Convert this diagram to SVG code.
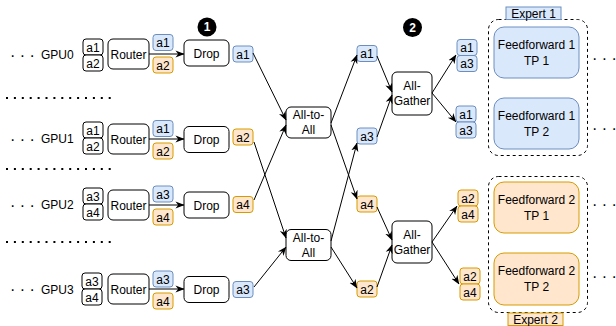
<svg xmlns="http://www.w3.org/2000/svg" width="616" height="326" viewBox="0 0 616 326">
<style>
text{font-family:"Liberation Sans",Arial,sans-serif;font-size:12px;fill:#000}
.c{text-anchor:middle}
.w{fill:#fff;stroke:#000;stroke-width:1}
.b{fill:#dae8fc;stroke:#6c8ebf;stroke-width:1}
.o{fill:#ffe6cc;stroke:#d79b00;stroke-width:1}
.dots{font-size:16px}
.sep{stroke:#000;stroke-width:2;stroke-dasharray:2 5.9}
.edge{stroke:#000;stroke-width:1;fill:none;marker-end:url(#arr)}
.cont{fill:none;stroke:#000;stroke-width:1;stroke-dasharray:3 3}
.badge{fill:#000}
.bt{fill:#fff;font-weight:bold;text-anchor:middle}
</style>
<defs>
<marker id="arr" viewBox="0 0 10 10" refX="9.5" refY="5" markerWidth="9" markerHeight="9" markerUnits="userSpaceOnUse" orient="auto">
<path d="M0,1 L10,5 L0,9 L3,5 z" fill="#000"/>
</marker>
</defs>

<!-- separators -->
<g id="separators">
<line class="sep" x1="6" y1="98" x2="111" y2="98"/>
<line class="sep" x1="6" y1="169" x2="111" y2="169"/>
<line class="sep" x1="6" y1="242" x2="111" y2="242"/>
</g>

<!-- Row 0 -->
<g id="gpu0">
<text class="dots" x="10" y="61">· · ·</text>
<text x="41" y="58.5">GPU0</text>
<rect class="w" x="83" y="39" width="20" height="16" rx="3"/><text class="c" x="93" y="51.5">a1</text>
<rect class="w" x="83" y="55" width="20" height="16" rx="3"/><text class="c" x="93" y="67.5">a2</text>
</g>
<g id="router0"><rect class="w" x="108" y="39" width="41" height="30" rx="5"/><text class="c" x="128.5" y="58.5">Router</text></g>
<g id="r0a1"><rect class="b" x="153" y="34.5" width="20" height="16" rx="3"/><text class="c" x="163" y="47">a1</text></g>
<g id="r0a2"><rect class="o" x="153" y="57" width="20" height="16" rx="3"/><text class="c" x="163" y="69.5">a2</text></g>
<g id="drop0"><rect class="w" x="184" y="40" width="45" height="26" rx="5"/><text class="c" x="206.5" y="57.5">Drop</text></g>
<g id="out0"><rect class="b" x="233" y="46" width="20" height="16" rx="3"/><text class="c" x="243" y="58.5">a1</text></g>

<!-- Row 1 -->
<g id="gpu1">
<text class="dots" x="10" y="145">· · ·</text>
<text x="41" y="142.5">GPU1</text>
<rect class="w" x="83" y="122" width="20" height="16" rx="3"/><text class="c" x="93" y="134.5">a1</text>
<rect class="w" x="83" y="138" width="20" height="16" rx="3"/><text class="c" x="93" y="150.5">a2</text>
</g>
<g id="router1"><rect class="w" x="108" y="124" width="41" height="30" rx="5"/><text class="c" x="128.5" y="143.5">Router</text></g>
<g id="r1a1"><rect class="b" x="153" y="120.5" width="20" height="16" rx="3"/><text class="c" x="163" y="133">a1</text></g>
<g id="r1a2"><rect class="o" x="153" y="143" width="20" height="16" rx="3"/><text class="c" x="163" y="155.5">a2</text></g>
<g id="drop1"><rect class="w" x="184" y="126.5" width="45" height="26" rx="5"/><text class="c" x="206.5" y="144">Drop</text></g>
<g id="out1"><rect class="o" x="233" y="129" width="20" height="16" rx="3"/><text class="c" x="243" y="141.5">a2</text></g>

<!-- Row 2 -->
<g id="gpu2">
<text class="dots" x="10" y="211">· · ·</text>
<text x="41" y="208.5">GPU2</text>
<rect class="w" x="83" y="188" width="20" height="16" rx="3"/><text class="c" x="93" y="200.5">a3</text>
<rect class="w" x="83" y="204" width="20" height="16" rx="3"/><text class="c" x="93" y="216.5">a4</text>
</g>
<g id="router2"><rect class="w" x="108" y="190" width="41" height="30" rx="5"/><text class="c" x="128.5" y="209.5">Router</text></g>
<g id="r2a3"><rect class="b" x="153" y="186" width="20" height="16" rx="3"/><text class="c" x="163" y="198.5">a3</text></g>
<g id="r2a4"><rect class="o" x="153" y="209" width="20" height="16" rx="3"/><text class="c" x="163" y="221.5">a4</text></g>
<g id="drop2"><rect class="w" x="184" y="192" width="45" height="26" rx="5"/><text class="c" x="206.5" y="209.5">Drop</text></g>
<g id="out2"><rect class="o" x="233" y="196.5" width="20" height="16" rx="3"/><text class="c" x="243" y="209">a4</text></g>

<!-- Row 3 -->
<g id="gpu3">
<text class="dots" x="10" y="295">· · ·</text>
<text x="41" y="293.5">GPU3</text>
<rect class="w" x="82" y="273" width="20" height="16" rx="3"/><text class="c" x="92" y="285.5">a3</text>
<rect class="w" x="82" y="289" width="20" height="16" rx="3"/><text class="c" x="92" y="301.5">a4</text>
</g>
<g id="router3"><rect class="w" x="108" y="274" width="41" height="30" rx="5"/><text class="c" x="128.5" y="293.5">Router</text></g>
<g id="r3a3"><rect class="b" x="153" y="271" width="20" height="16" rx="3"/><text class="c" x="163" y="283.5">a3</text></g>
<g id="r3a4"><rect class="o" x="153" y="293" width="20" height="16" rx="3"/><text class="c" x="163" y="305.5">a4</text></g>
<g id="drop3"><rect class="w" x="184" y="276.5" width="45" height="26" rx="5"/><text class="c" x="206.5" y="294">Drop</text></g>
<g id="out3"><rect class="b" x="233" y="281.5" width="20" height="16" rx="3"/><text class="c" x="243" y="294">a3</text></g>

<!-- badges -->
<g id="badge1"><circle class="badge" cx="207" cy="27" r="9.5"/><text class="bt" x="207" y="31.3">1</text></g>
<g id="badge2"><circle class="badge" cx="412.5" cy="27.5" r="9.5"/><text class="bt" x="412.5" y="31.8">2</text></g>

<!-- All-to-All -->
<g id="a2a1"><rect class="w" x="286" y="107" width="45" height="31" rx="5"/><text class="c" x="308.5" y="119">All-to-</text><text class="c" x="308.5" y="134">All</text></g>
<g id="a2a2"><rect class="w" x="286" y="229.5" width="45" height="31" rx="5"/><text class="c" x="308.5" y="241.5">All-to-</text><text class="c" x="308.5" y="256.5">All</text></g>

<!-- middle column -->
<g id="m_a1"><rect class="b" x="357" y="45.5" width="20" height="16" rx="3"/><text class="c" x="367" y="58">a1</text></g>
<g id="m_a3"><rect class="b" x="357" y="128" width="20" height="16" rx="3"/><text class="c" x="367" y="140.5">a3</text></g>
<g id="m_a4"><rect class="o" x="357" y="196" width="20" height="16" rx="3"/><text class="c" x="367" y="208.5">a4</text></g>
<g id="m_a2"><rect class="o" x="357" y="281" width="20" height="16" rx="3"/><text class="c" x="367" y="293.5">a2</text></g>

<!-- All-Gather -->
<g id="ag1"><rect class="w" x="392" y="72" width="40" height="43" rx="5"/><text class="c" x="412" y="90">All-</text><text class="c" x="412" y="105">Gather</text></g>
<g id="ag2"><rect class="w" x="392" y="221" width="40" height="42" rx="5"/><text class="c" x="412" y="238.5">All-</text><text class="c" x="412" y="253.5">Gather</text></g>

<!-- right pairs -->
<g id="p1"><rect class="b" x="457" y="39.5" width="20" height="16" rx="3"/><text class="c" x="467" y="52">a1</text><rect class="b" x="457" y="55.5" width="20" height="16" rx="3"/><text class="c" x="467" y="68">a3</text></g>
<g id="p2"><rect class="b" x="456" y="106" width="20" height="16" rx="3"/><text class="c" x="466" y="118.5">a1</text><rect class="b" x="456" y="122" width="20" height="16" rx="3"/><text class="c" x="466" y="134.5">a3</text></g>
<g id="p3"><rect class="o" x="458" y="190" width="20" height="16" rx="3"/><text class="c" x="468" y="202.5">a2</text><rect class="o" x="458" y="206" width="20" height="16" rx="3"/><text class="c" x="468" y="218.5">a4</text></g>
<g id="p4"><rect class="o" x="460" y="268" width="20" height="16" rx="3"/><text class="c" x="470" y="280.5">a2</text><rect class="o" x="460" y="284" width="20" height="16" rx="3"/><text class="c" x="470" y="296.5">a4</text></g>

<!-- Experts -->
<g id="expert1">
<rect class="cont" x="488.5" y="19.5" width="99" height="136" rx="10"/>
<rect class="b" x="506" y="7" width="55" height="12.5"/><text class="c" x="533.5" y="17.5">Expert 1</text>
</g>
<g id="ff1tp1"><rect class="b" x="494" y="27" width="85" height="51" rx="10"/><text class="c" x="536.5" y="48.5">Feedforward 1</text><text class="c" x="536.5" y="64.5">TP 1</text></g>
<g id="ff1tp2"><rect class="b" x="494" y="98" width="85" height="51" rx="10"/><text class="c" x="536.5" y="119.5">Feedforward 1</text><text class="c" x="536.5" y="135.5">TP 2</text></g>
<g id="expert2">
<rect class="cont" x="488.5" y="176.5" width="99" height="136" rx="10"/>
<rect class="o" x="508" y="313" width="55" height="12.5"/><text class="c" x="535.5" y="323.5">Expert 2</text>
</g>
<g id="ff2tp1"><rect class="o" x="494" y="182" width="85" height="51" rx="10"/><text class="c" x="536.5" y="203.5">Feedforward 2</text><text class="c" x="536.5" y="219.5">TP 1</text></g>
<g id="ff2tp2"><rect class="o" x="494" y="253" width="85" height="52" rx="10"/><text class="c" x="536.5" y="275">Feedforward 2</text><text class="c" x="536.5" y="291">TP 2</text></g>

<g id="rdots">
<text class="dots" x="592" y="64">· · ·</text>
<text class="dots" x="592" y="134">· · ·</text>
<text class="dots" x="592" y="210">· · ·</text>
<text class="dots" x="592" y="282">· · ·</text>
</g>

<!-- connectors -->
<g id="connectors">
<line class="edge" x1="149" y1="54" x2="184" y2="54"/>
<line class="edge" x1="149" y1="139" x2="184" y2="139"/>
<line class="edge" x1="149" y1="205" x2="184" y2="205"/>
<line class="edge" x1="149" y1="289" x2="184" y2="289"/>
<line class="edge" x1="253" y1="53" x2="286" y2="120"/>
<line class="edge" x1="254" y1="142" x2="286" y2="238"/>
<line class="edge" x1="254" y1="200" x2="286" y2="125"/>
<line class="edge" x1="254" y1="287" x2="286" y2="247"/>
<line class="edge" x1="331" y1="123" x2="357" y2="55"/>
<line class="edge" x1="331" y1="125" x2="357" y2="199"/>
<line class="edge" x1="331" y1="241" x2="357" y2="143"/>
<line class="edge" x1="331" y1="247" x2="357" y2="288"/>
<line class="edge" x1="377" y1="56" x2="392" y2="92"/>
<line class="edge" x1="377" y1="137" x2="392" y2="95"/>
<line class="edge" x1="377" y1="207" x2="392" y2="240"/>
<line class="edge" x1="377" y1="287" x2="392" y2="245"/>
<line class="edge" x1="432" y1="93" x2="456" y2="55"/>
<line class="edge" x1="432" y1="93" x2="456" y2="122"/>
<line class="edge" x1="432" y1="242" x2="457" y2="206"/>
<line class="edge" x1="432" y1="242" x2="459" y2="284"/>
</g>
</svg>
